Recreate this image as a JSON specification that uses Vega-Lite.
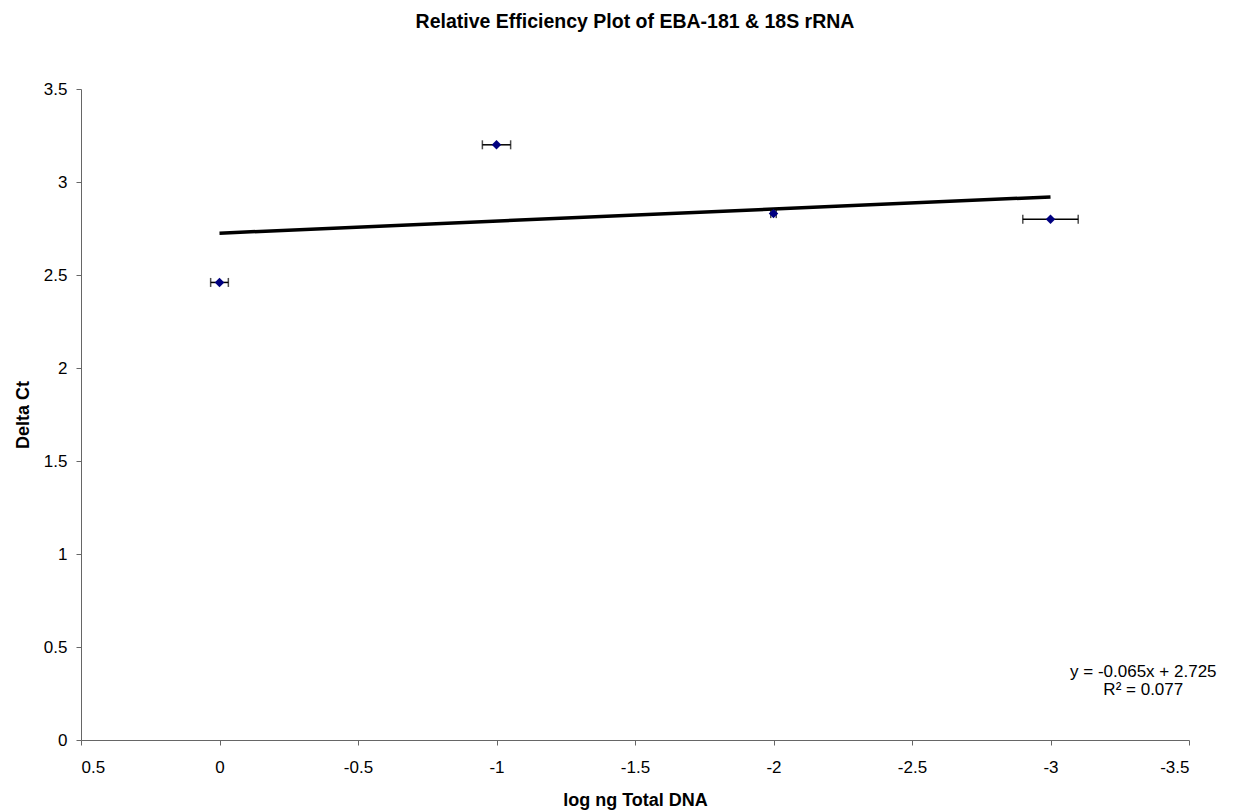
{
  "$schema": "https://vega.github.io/schema/vega-lite/v6.json",
  "autosize": "none",
  "width": 1108,
  "height": 651,
  "padding": {"left": 81, "top": 89, "right": 44, "bottom": 72},
  "background": "white",
  "config": {
    "font": "Liberation Sans",
    "view": {"stroke": null},
    "axis": {"grid": false, "domainColor": "#666666", "tickColor": "#666666", "tickSize": 5, "labelColor": "black", "titleColor": "black", "labelFont": "Liberation Sans", "titleFont": "Liberation Sans", "labelFontSize": 17, "titleFontSize": 18, "titleFontWeight": "bold", "labelExpr": "datum.value + ''"}
  },
  "title": {"text": "Relative Efficiency Plot of EBA-181 & 18S rRNA", "fontSize": 19.5, "fontWeight": "bold", "font": "Liberation Sans", "color": "black", "anchor": "middle", "baseline": "alphabetic", "offset": 33},
  "datasets": {
    "points": [
      {"logng": 0, "deltaCt": 2.46, "xlo": 0.032, "xhi": -0.032},
      {"logng": -1, "deltaCt": 3.2, "xlo": -0.949, "xhi": -1.051},
      {"logng": -2, "deltaCt": 2.83, "xlo": -1.99, "xhi": -2.01},
      {"logng": -3, "deltaCt": 2.8, "xlo": -2.9, "xhi": -3.1}
    ],
    "trend": [
      {"logng": 0, "deltaCt": 2.725},
      {"logng": -3, "deltaCt": 2.92}
    ],
    "eq": [
      {"logng": -3.335, "deltaCt": 0.339, "label": "y = -0.065x + 2.725"},
      {"logng": -3.335, "deltaCt": 0.242, "label": "R² = 0.077"}
    ]
  },
  "layer": [
    {
      "data": {"name": "points"},
      "mark": {"type": "rule", "color": "black", "strokeWidth": 1.5},
      "encoding": {
        "x": {"field": "xlo", "type": "quantitative", "scale": {"domain": [-3.5, 0.5], "reverse": true, "nice": false, "zero": false},
          "axis": {"values": [0.5, 0, -0.5, -1, -1.5, -2, -2.5, -3, -3.5], "title": "log ng Total DNA", "labelPadding": 14, "titleX": 554, "titleY": 65, "titleBaseline": "alphabetic", "titleAnchor": null}},
        "x2": {"field": "xhi"},
        "y": {"field": "deltaCt", "type": "quantitative", "scale": {"domain": [0, 3.5], "nice": false},
          "axis": {"values": [0, 0.5, 1, 1.5, 2, 2.5, 3, 3.5], "title": "Delta Ct", "labelPadding": 9, "titleX": -53, "titleY": 325.5, "titleBaseline": "alphabetic", "titleAngle": 270}}
      }
    },
    {
      "data": {"name": "points"},
      "mark": {"type": "tick", "color": "black", "orient": "vertical", "size": 9, "thickness": 1.5},
      "encoding": {
        "x": {"field": "xlo", "type": "quantitative"},
        "y": {"field": "deltaCt", "type": "quantitative"}
      }
    },
    {
      "data": {"name": "points"},
      "mark": {"type": "tick", "color": "black", "orient": "vertical", "size": 9, "thickness": 1.5},
      "encoding": {
        "x": {"field": "xhi", "type": "quantitative"},
        "y": {"field": "deltaCt", "type": "quantitative"}
      }
    },
    {
      "data": {"name": "trend"},
      "mark": {"type": "line", "color": "black", "strokeWidth": 3.5},
      "encoding": {
        "x": {"field": "logng", "type": "quantitative"},
        "y": {"field": "deltaCt", "type": "quantitative"}
      }
    },
    {
      "data": {"name": "points"},
      "mark": {"type": "point", "shape": "diamond", "filled": true, "color": "#000080", "size": 90, "opacity": 1},
      "encoding": {
        "x": {"field": "logng", "type": "quantitative"},
        "y": {"field": "deltaCt", "type": "quantitative"}
      }
    },
    {
      "data": {"name": "eq"},
      "mark": {"type": "text", "align": "center", "baseline": "alphabetic", "fontSize": 17, "font": "Liberation Sans", "color": "black"},
      "encoding": {
        "x": {"field": "logng", "type": "quantitative"},
        "y": {"field": "deltaCt", "type": "quantitative"},
        "text": {"field": "label"}
      }
    }
  ]
}
